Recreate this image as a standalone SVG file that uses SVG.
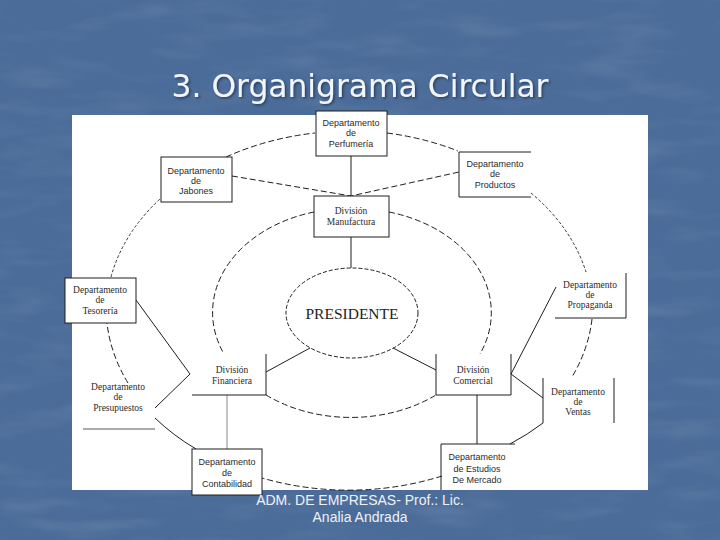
<svg xmlns="http://www.w3.org/2000/svg" width="720" height="540" viewBox="0 0 720 540">
<defs>
<filter id="tex" x="0" y="0" width="100%" height="100%">
<feTurbulence type="fractalNoise" baseFrequency="0.012 0.05" numOctaves="3" seed="4" result="n"/>
<feColorMatrix in="n" type="matrix" values="0 0 0 0 1  0 0 0 0 1  0 0 0 0 1  0 0 0 1.2 -0.55"/>
</filter>
<filter id="sh" x="-5%" y="-20%" width="110%" height="140%">
<feDropShadow dx="1.5" dy="1.5" stdDeviation="0.8" flood-color="#1d2f4a" flood-opacity="0.7"/>
</filter>
<style>
.ln{fill:none;stroke:#1e1e1e;stroke-width:1}
.dl{fill:none;stroke:#1e1e1e;stroke-width:1;stroke-dasharray:6 3}
.df{fill:none;stroke:#1e1e1e;stroke-width:0.9;stroke-dasharray:3 2}
.bx{fill:#fff;stroke:#1e1e1e;stroke-width:1}
.op{fill:none;stroke:#1e1e1e;stroke-width:1}
.ts{font-family:"Liberation Sans",Arial,sans-serif;font-size:9px;fill:#2a2a2a;text-anchor:middle}
.tr{font-family:"Liberation Serif","Times New Roman",serif;font-size:9.5px;fill:#2a2a2a;text-anchor:middle}
.title{font-family:"DejaVu Sans",Verdana,sans-serif;font-size:32px;fill:#f2f5fa;text-anchor:middle}
.foot{font-family:"Liberation Sans",Arial,sans-serif;font-size:14px;fill:#eef2f8;text-anchor:middle}
</style>
</defs>
<rect width="720" height="540" fill="#4b6c99"/>
<rect width="720" height="540" filter="url(#tex)" opacity="0.15"/>
<text class="title" x="360" y="97" textLength="377" lengthAdjust="spacingAndGlyphs" filter="url(#sh)">3. Organigrama Circular</text>
<rect x="72" y="115" width="576" height="375" fill="#ffffff"/>

<g id="connectors">
<path class="dl" d="M226,157 A240,180 0 0 1 315,133"/>
<path class="dl" d="M387,133 A240,180 0 0 1 458,151"/>
<path class="df" d="M531,193 A240,180 0 0 1 586,272"/>
<path class="dl" d="M592,319 A240,180 0 0 1 572,377"/>
<path class="ln" d="M543,423 A240,180 0 0 1 510,444"/>
<path class="dl" d="M442,476 A240,180 0 0 1 262,478"/>
<path class="ln" d="M196,449 A240,180 0 0 1 155,418"/>
<path class="dl" d="M128,383 A240,180 0 0 1 107,323"/>
<path class="df" d="M111,277 A240,180 0 0 1 160,199"/>
<path class="dl" d="M314,212 A137,104 0 0 0 224,354"/>
<path class="dl" d="M389,212 A137,104 0 0 1 480,354"/>
<path class="dl" d="M266,395 A137,104 0 0 0 436,395"/>
<path class="dl" d="M232,176 L351,196 L459,172"/>
<path class="ln" d="M351,156 V196 M351,237 V268"/>
<path class="ln" d="M310,348 L266,372 M393,348 L436,370"/>
<path class="ln" d="M136,300 L190,374 L155,408"/>
<path class="ln" d="M556,287 L511,374 L543,398"/>
<path class="ln" d="M477,395 V444"/>
<path d="M227,395 V449" fill="none" stroke="#8a8a8a" stroke-width="1"/>
</g>

<g id="presidente">
<ellipse cx="352" cy="313" rx="66" ry="45" fill="none" stroke="#1e1e1e" stroke-width="1" stroke-dasharray="4 2"/>
<text x="352" y="319" font-family="Liberation Serif,Times New Roman,serif" font-size="15.5" fill="#222" text-anchor="middle">PRESIDENTE</text>
</g>

<g id="perfumeria">
<rect class="bx" x="316" y="111" width="71" height="45"/>
<text class="ts" x="351" y="126">Departamento</text>
<text class="ts" x="351" y="136">de</text>
<text class="ts" x="351" y="147">Perfumería</text>
</g>

<g id="jabones">
<rect class="bx" x="161" y="157" width="71" height="45"/>
<text class="ts" x="196" y="174">Departamento</text>
<text class="ts" x="196" y="184">de</text>
<text class="ts" x="196" y="194">Jabones</text>
</g>

<g id="manufactura">
<rect class="bx" x="314" y="196" width="75" height="41"/>
<text class="tr" x="351" y="214">División</text>
<text class="tr" x="351" y="225">Manufactura</text>
</g>

<g id="productos">
<path class="op" d="M531,152 H459 V197 H531"/>
<text class="ts" x="495" y="167">Departamento</text>
<text class="ts" x="495" y="177">de</text>
<text class="ts" x="495" y="188">Productos</text>
</g>

<g id="tesoreria">
<rect class="bx" x="65" y="278" width="71" height="45"/>
<text class="tr" x="100" y="293">Departamento</text>
<text class="tr" x="100" y="303">de</text>
<text class="tr" x="100" y="314">Tesorería</text>
</g>

<g id="propaganda">
<path class="op" d="M626,273 V318 H555"/>
<text class="tr" x="590" y="288">Departamento</text>
<text class="tr" x="590" y="298">de</text>
<text class="tr" x="590" y="308">Propaganda</text>
</g>

<g id="presupuestos">
<path d="M83,429 H155" fill="none" stroke="#555" stroke-width="1"/>
<text class="tr" x="118" y="390">Departamento</text>
<text class="tr" x="118" y="400">de</text>
<text class="tr" x="118" y="411">Presupuestos</text>
</g>

<g id="financiera">
<path class="op" d="M266,354 V395 H192"/>
<text class="tr" x="232" y="373">División</text>
<text class="tr" x="232" y="384">Financiera</text>
</g>

<g id="comercial">
<path class="op" d="M436,354 V395 H511 V354"/>
<text class="tr" x="473" y="373">División</text>
<text class="tr" x="473" y="384">Comercial</text>
</g>

<g id="ventas">
<path class="op" d="M543,378 V423 M614,378 V423"/>
<text class="tr" x="578" y="395">Departamento</text>
<text class="tr" x="578" y="405">de</text>
<text class="tr" x="578" y="415">Ventas</text>
</g>

<g id="contabilidad">
<rect class="bx" x="192" y="449" width="70" height="46"/>
<text class="ts" x="227" y="465">Departamento</text>
<text class="ts" x="227" y="476">de</text>
<text class="ts" x="227" y="487">Contabilidad</text>
</g>

<g id="estudios">
<path class="op" d="M441,490 V444 H515"/>
<text class="ts" x="477" y="460">Departamento</text>
<text class="ts" x="477" y="472">de Estudios</text>
<text class="ts" x="477" y="483">De Mercado</text>
</g>

<g id="footer">
<text class="foot" x="360" y="505">ADM. DE EMPRESAS- Prof.: Lic.</text>
<text class="foot" x="360" y="522">Analia Andrada</text>
</g>
</svg>
